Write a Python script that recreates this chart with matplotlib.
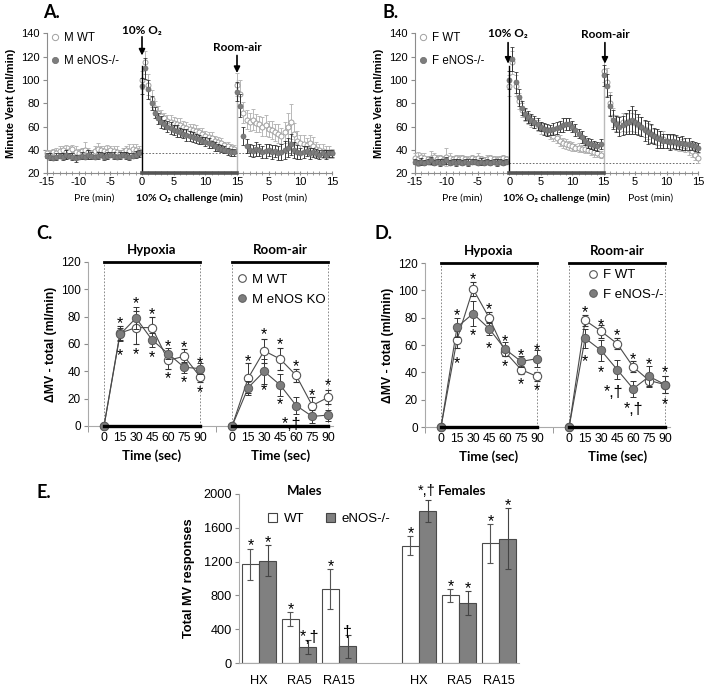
import numpy as np
import matplotlib.pyplot as plt
from matplotlib.lines import Line2D
from matplotlib.patches import Patch
from matplotlib.transforms import offset_copy, blended_transform_factory

plt.rcParams['font.family'] = ['Liberation Sans', 'DejaVu Sans']
BOLD2 = ['Lato', 'DejaVu Sans']

# ---------------- A / B: minute ventilation, one value every 0.5 min ----------------
pre_t = np.arange(-15, 0, 0.5)
hyp_t = np.arange(0, 15, 0.5)
post_t = np.arange(15, 30.5, 0.5)

a_wt_pre = [37, 36, 38, 37, 39, 40, 38, 39, 41, 38, 37, 39, 40, 38, 37, 39, 41, 40, 39, 38, 40, 39, 38, 37, 38, 40, 39, 41, 40, 39]
a_ko_pre = [35, 34, 33, 34, 35, 34, 36, 35, 34, 33, 34, 35, 34, 36, 35, 34, 35, 36, 34, 35, 36, 35, 34, 35, 36, 35, 34, 35, 36, 37]
a_wt_hyp = [100, 115, 96, 84, 76, 72, 69, 67, 65, 64, 63, 62, 61, 60, 59, 58, 57, 56, 55, 54, 52, 51, 50, 48, 47, 46, 44, 43, 42, 41]
a_ko_hyp = [95, 110, 92, 80, 72, 67, 64, 62, 60, 59, 57, 56, 55, 54, 53, 52, 51, 50, 49, 48, 47, 46, 45, 43, 42, 41, 40, 39, 38, 38]
a_wt_post = [96, 88, 72, 66, 64, 66, 63, 62, 60, 61, 58, 57, 55, 54, 52, 55, 60, 64, 54, 48, 46, 45, 44, 46, 43, 41, 40, 39, 38, 38, 37]
a_ko_post = [90, 78, 52, 43, 40, 39, 41, 40, 38, 39, 40, 38, 39, 37, 38, 40, 42, 45, 40, 38, 37, 38, 39, 37, 38, 37, 36, 37, 36, 37, 37]
a_wt_pre_e = [3, 4, 3, 5, 4, 3, 6, 4, 3, 5, 4, 3, 7, 4, 3, 4, 5, 3, 4, 6, 3, 4, 5, 3, 4, 3, 6, 4, 5, 4]
a_ko_pre_e = [2, 3, 2, 3, 2, 3, 4, 2, 3, 3, 2, 3, 2, 4, 3, 2, 3, 2, 3, 3, 2, 3, 2, 3, 2, 3, 3, 2, 3, 3]
a_wt_hyp_e = [8, 10, 9, 7, 6, 6, 5, 5, 5, 6, 5, 5, 6, 5, 5, 4, 5, 5, 4, 5, 4, 4, 5, 4, 4, 4, 3, 4, 3, 3]
a_ko_hyp_e = [7, 9, 8, 6, 5, 5, 5, 4, 5, 5, 4, 5, 4, 4, 5, 4, 4, 4, 4, 3, 4, 4, 3, 4, 3, 3, 3, 3, 3, 3]
a_wt_post_e = [10, 12, 9, 8, 8, 9, 8, 7, 8, 9, 7, 8, 7, 8, 7, 9, 12, 15, 9, 8, 7, 8, 6, 7, 8, 6, 5, 6, 5, 5, 4]
a_ko_post_e = [8, 10, 8, 6, 5, 5, 6, 5, 5, 6, 5, 6, 5, 6, 7, 8, 8, 9, 7, 6, 5, 5, 4, 5, 4, 4, 4, 3, 4, 3, 3]

b_wt_pre = [33, 32, 34, 33, 32, 33, 34, 32, 33, 31, 34, 33, 32, 33, 32, 33, 32, 31, 33, 32, 33, 32, 31, 32, 33, 32, 31, 32, 33, 32]
b_ko_pre = [30, 29, 30, 29, 30, 31, 29, 30, 29, 30, 31, 29, 30, 29, 30, 29, 30, 29, 30, 30, 29, 30, 29, 30, 29, 30, 29, 30, 29, 30]
b_wt_hyp = [95, 115, 95, 82, 74, 70, 67, 65, 63, 61, 59, 58, 56, 54, 52, 50, 48, 46, 45, 44, 43, 42, 42, 41, 41, 40, 39, 38, 37, 36]
b_ko_hyp = [100, 118, 98, 85, 76, 71, 68, 66, 64, 62, 60, 58, 57, 57, 58, 59, 60, 61, 62, 62, 60, 57, 54, 51, 48, 46, 45, 44, 43, 45]
b_wt_post = [108, 98, 80, 68, 63, 62, 64, 63, 65, 64, 63, 61, 60, 58, 56, 54, 52, 51, 50, 49, 48, 47, 47, 46, 45, 44, 43, 41, 39, 36, 33]
b_ko_post = [104, 95, 78, 66, 62, 60, 61, 63, 64, 66, 64, 62, 60, 57, 55, 54, 52, 50, 49, 48, 48, 47, 48, 47, 46, 46, 45, 45, 44, 43, 42]
b_wt_pre_e = [4, 6, 3, 4, 3, 6, 3, 4, 3, 4, 8, 4, 3, 3, 4, 3, 3, 4, 3, 3, 4, 3, 3, 4, 3, 3, 4, 3, 3, 3]
b_ko_pre_e = [2, 2, 3, 2, 2, 3, 2, 2, 3, 2, 3, 2, 2, 3, 2, 2, 2, 3, 2, 2, 2, 3, 2, 2, 2, 2, 3, 2, 2, 2]
b_wt_hyp_e = [9, 10, 9, 7, 6, 5, 5, 5, 4, 5, 5, 4, 4, 5, 4, 4, 5, 4, 4, 4, 4, 3, 4, 3, 4, 3, 3, 4, 3, 3]
b_ko_hyp_e = [8, 10, 9, 7, 6, 5, 5, 5, 5, 5, 4, 5, 5, 4, 5, 5, 5, 6, 5, 5, 5, 5, 4, 5, 4, 4, 4, 4, 4, 4]
b_wt_post_e = [10, 12, 10, 8, 7, 7, 8, 8, 9, 8, 8, 7, 8, 7, 7, 7, 6, 7, 6, 7, 6, 6, 6, 6, 6, 5, 5, 5, 5, 5, 4]
b_ko_post_e = [9, 10, 9, 8, 7, 8, 8, 9, 10, 12, 10, 9, 8, 9, 10, 8, 7, 8, 7, 6, 6, 7, 6, 6, 5, 6, 5, 5, 4, 4, 4]

a_baseline = 37.5
b_baseline = 28.6
tc_ticks = [-15, -10, -5, 0, 5, 10, 15, 20, 25, 30]
tc_labels = ['-15', '-10', '-5', '0', '5', '10', '15', '5', '10', '15']

# ---------------- C / D: delta MV (ml/min) at 0..90 s ----------------
sec = [0, 15, 30, 45, 60, 75, 90]
c_hyp_wt = [0, 68, 72, 72, 48, 51, 36]
c_hyp_wt_e = [0, 5, 12, 8, 6, 5, 4]
c_hyp_ko = [0, 67, 79, 63, 53, 43, 42]
c_hyp_ko_e = [0, 5, 8, 5, 4, 4, 4]
c_ra_wt = [0, 35, 55, 49, 37, 15, 21]
c_ra_wt_e = [0, 11, 9, 8, 5, 6, 5]
c_ra_ko = [0, 28, 40, 30, 15, 7, 8]
c_ra_ko_e = [0, 5, 9, 8, 6, 5, 4]

d_hyp_wt = [0, 64, 101, 80, 55, 42, 37]
d_hyp_wt_e = [0, 6, 5, 4, 3, 3, 3]
d_hyp_ko = [0, 73, 83, 72, 57, 48, 50]
d_hyp_ko_e = [0, 7, 9, 5, 5, 4, 6]
d_ra_wt = [0, 78, 70, 61, 44, 34, 31]
d_ra_wt_e = [0, 4, 5, 4, 4, 4, 6]
d_ra_ko = [0, 65, 56, 42, 28, 37, 31]
d_ra_ko_e = [0, 7, 8, 7, 6, 8, 6]

# significance marks: (x slot, y, text)
c_marks = [(1, 78.6, '*'), (1, 54.8, '*'), (2, 93, '*'), (2, 56, '*'), (3, 84.7, '*'), (3, 53.5, '*'),
           (4, 61.6, '*'), (4, 38.5, '*'), (5, 60.9, '*'), (5, 35.5, '*'), (6, 49.4, '*'), (6, 28.2, '*'),
           (9, 50.6, '*'), (10, 70, '*'), (10, 29, '*'), (11, 62.8, '*'), (11, 19, '*'),
           (12, 47, '*'), (11.7, 4.4, '*,†'), (13, 25.6, '*'), (14, 32.9, '*')]
d_marks = [(1, 85, '*'), (1, 50, '*'), (2, 111, '*'), (2, 70, '*'), (3, 89, '*'), (3, 61, '*'),
           (4, 66, '*'), (4, 48, '*'), (5, 56, '*'), (5, 34.5, '*'), (6, 59, '*'), (6, 30, '*'),
           (9, 87, '*'), (9, 51.5, '*'), (10, 78, '*'), (10, 43, '*'), (11, 70, '*'), (10.8, 29, '*,†'),
           (12, 53, '*'), (12, 16, '*,†'), (13, 49, '*'), (14, 43, '*'), (14, 20, '*')]

# ---------------- E: total MV responses ----------------
e_cats = ['HX', 'RA5', 'RA15', 'HX', 'RA5', 'RA15']
e_wt = [1170, 520, 875, 1390, 800, 1415]
e_wt_err = [185, 80, 240, 115, 80, 235]
e_ko = [1210, 190, 200, 1800, 710, 1470]
e_ko_err = [185, 80, 135, 130, 145, 360]
e_wt_marks = ['*', '*', '*', '*', '*', '*']
e_ko_marks = ['*', '*,†', '†', '', '*', '*']

GRAY = '#7d7d7d'
AX = '#8c8c8c'

fig = plt.figure(figsize=(7.09, 6.88), dpi=100)
W, H = 709, 688


def box(l, t, w, h):
    return [l / W, 1 - (t + h) / H, w / W, h / H]


def time_course(ax, seg, base, lab_wt, lab_ko, arrows):
    for t, wt, wte, ko, koe in seg:
        ax.errorbar(t, wt, yerr=wte, fmt='o', ms=3.6, mfc='white', mec='#a0a0a0', mew=0.7,
                    ecolor='#b8b8b8', elinewidth=0.7, capsize=1.6, capthick=0.7, clip_on=False, zorder=3)
        ax.errorbar(t, ko, yerr=koe, fmt='o', ms=3.6, mfc=GRAY, mec='#6a6a6a', mew=0.5,
                    ecolor='#1a1a1a', elinewidth=0.6, capsize=1.6, capthick=0.6, clip_on=False, zorder=4)
    ax.plot([0, 0], [20, 112], color='k', lw=1.0, zorder=5)
    ax.plot([15, 15], [20, 100], color='#bbbbbb', lw=1.0, zorder=2)
    ax.plot([0, 30], [base, base], color='#555555', lw=0.6, ls=(0, (2, 2)), zorder=2)
    ax.plot([0, 15], [20, 20], color='#555555', lw=2.6, clip_on=False, zorder=6)
    ax.set_xlim(-15, 30)
    ax.set_ylim(20, 140)
    ax.set_xticks(tc_ticks)
    ax.set_xticklabels(tc_labels)
    ax.set_xticks(np.arange(-15, 31, 1), minor=True)
    ax.set_yticks(range(20, 141, 20))
    ax.tick_params(axis='x', which='both', direction='inout', length=3, color=AX, labelsize=8, pad=1)
    ax.tick_params(axis='y', direction='out', length=3, color=AX, labelsize=8, pad=2)
    for s in ['top', 'right']:
        ax.spines[s].set_visible(False)
    for s in ['left', 'bottom']:
        ax.spines[s].set_color(AX)
    ax.set_ylabel('Minute Vent (ml/min)', fontsize=8, fontweight='bold', labelpad=4)
    handles = [Line2D([], [], marker='o', ls='', ms=4.5, mfc='white', mec='#a0a0a0', mew=0.7),
               Line2D([], [], marker='o', ls='', ms=4.5, mfc=GRAY, mec='#6a6a6a', mew=0.5)]
    ax.legend(handles, [lab_wt, lab_ko], loc='upper left', bbox_to_anchor=(-0.005, 1.045), frameon=False,
              fontsize=8.3, handlelength=0.8, handletextpad=0.4, labelspacing=1.0, borderaxespad=0)
    for x, ty, y0, y1, txt in arrows:
        ax.annotate('', xy=(x, y1), xytext=(x, y0),
                    arrowprops=dict(arrowstyle='-|>', color='k', lw=1.2, mutation_scale=9, shrinkA=0, shrinkB=0))
        ax.text(x, ty, txt, ha='center', va='center', fontsize=8.5, fontweight='bold', family=BOLD2)
    tr = blended_transform_factory(ax.transData, fig.transFigure)
    ax.text(-7.5, 1 - 198 / H, 'Pre (min)', transform=tr, ha='center', va='center', fontsize=7.5, family=BOLD2)
    ax.text(7.5, 1 - 198 / H, '10% O₂ challenge (min)', transform=tr, ha='center', va='center',
            fontsize=7.5, fontweight='bold', family=BOLD2)
    ax.text(22.5, 1 - 198 / H, 'Post (min)', transform=tr, ha='center', va='center', fontsize=7.5, family=BOLD2)


axA = fig.add_axes(box(47, 33.3, 285, 140))
time_course(axA, [(pre_t, a_wt_pre, a_wt_pre_e, a_ko_pre, a_ko_pre_e),
                  (hyp_t, a_wt_hyp, a_wt_hyp_e, a_ko_hyp, a_ko_hyp_e),
                  (post_t, a_wt_post, a_wt_post_e, a_ko_post, a_ko_post_e)],
            a_baseline, 'M WT', 'M eNOS-/-',
            [(0, 142.5, 137, 121, '10% O₂'), (15, 127.5, 121, 106, 'Room-air')])

axB = fig.add_axes(box(415, 33.3, 283, 140))
time_course(axB, [(pre_t, b_wt_pre, b_wt_pre_e, b_ko_pre, b_ko_pre_e),
                  (hyp_t, b_wt_hyp, b_wt_hyp_e, b_ko_hyp, b_ko_hyp_e),
                  (post_t, b_wt_post, b_wt_post_e, b_ko_post, b_ko_post_e)],
            b_baseline, 'F WT', 'F eNOS-/-',
            [(-0.2, 140, 132, 114, '10% O₂'), (15.2, 139, 132, 114, 'Room-air')])


def star(ax, x, y, s, size=11.5):
    tr = offset_copy(ax.transData, fig=fig, y=-0.58 * size, units='points')
    ax.text(x, y, s, transform=tr, ha='center', va='baseline', fontsize=size, clip_on=False)


def delta_panel(ax, groups, marks, lab_wt, lab_ko, leg_anchor):
    for off, wt, wte, ko, koe in groups:
        x = np.arange(len(sec)) + off
        ax.plot(x, wt, '-', color='#4a4a4a', lw=0.8, zorder=3)
        ax.plot(x, ko, '-', color='#4a4a4a', lw=0.8, zorder=3)
        ax.errorbar(x, wt, yerr=wte, fmt='o', ms=6, mfc='white', mec='#555555', mew=0.8,
                    ecolor='#333333', elinewidth=0.7, capsize=2, capthick=0.7, zorder=4, clip_on=False)
        ax.errorbar(x, ko, yerr=koe, fmt='o', ms=6, mfc=GRAY, mec='#5a5a5a', mew=0.7,
                    ecolor='#333333', elinewidth=0.7, capsize=2, capthick=0.7, zorder=5, clip_on=False)
        ax.plot([off, off + 6], [120, 120], color='k', lw=2.0, clip_on=False, zorder=6)
        ax.plot([off, off + 6], [0, 0], color='k', lw=2.4, clip_on=False, zorder=6)
        ax.vlines([off, off + 6], 0, 120, colors='#777777', linestyles=(0, (2, 2)), lw=0.6, zorder=2)
        ax.text(off + 3, 128.6, ['Hypoxia', 'Room-air'][off > 0], ha='center', va='center',
                fontsize=9.5, fontweight='bold', family=BOLD2)
        ax.text(off + 3, -0.18, 'Time (sec)', transform=blended_transform_factory(ax.transData, ax.transAxes),
                ha='center', va='center', fontsize=9.5, fontweight='bold', family=BOLD2)
    for x, y, s in marks:
        star(ax, x, y, s)
    ax.set_xlim(-1, 14.3)
    ax.set_ylim(0, 120)
    ax.set_xticks(list(range(7)) + list(range(8, 15)))
    ax.set_xticklabels([str(s) for s in sec] * 2)
    ax.set_xticks([-1, 7], minor=True)
    ax.tick_params(axis='x', which='major', length=0, labelsize=8.8, pad=4)
    ax.tick_params(axis='x', which='minor', length=4, color=AX)
    ax.set_yticks(range(0, 121, 20))
    ax.tick_params(axis='y', direction='out', length=3, color=AX, labelsize=8.5, pad=2)
    for s in ['top', 'right']:
        ax.spines[s].set_visible(False)
    for s in ['left', 'bottom']:
        ax.spines[s].set_color('#aaaaaa')
    ax.set_ylabel('ΔMV - total (ml/min)', fontsize=8.8, fontweight='bold', labelpad=3)
    handles = [Line2D([], [], marker='o', ls='', ms=5.5, mfc='white', mec='#555555', mew=0.8),
               Line2D([], [], marker='o', ls='', ms=5.5, mfc=GRAY, mec='#5a5a5a', mew=0.7)]
    ax.legend(handles, [lab_wt, lab_ko], loc='upper left', bbox_to_anchor=leg_anchor, frameon=False,
              fontsize=9.5, handlelength=0.7, handletextpad=0.4, labelspacing=0.55, borderaxespad=0)


axC = fig.add_axes(box(88, 262, 245, 164))
delta_panel(axC, [(0, c_hyp_wt, c_hyp_wt_e, c_hyp_ko, c_hyp_ko_e), (8, c_ra_wt, c_ra_wt_e, c_ra_ko, c_ra_ko_e)],
            c_marks, 'M WT', 'M eNOS KO', (0.59, 0.96))

axD = fig.add_axes(box(425, 263, 245, 164))
delta_panel(axD, [(0, d_hyp_wt, d_hyp_wt_e, d_hyp_ko, d_hyp_ko_e), (8, d_ra_wt, d_ra_wt_e, d_ra_ko, d_ra_ko_e)],
            d_marks, 'F WT', 'F eNOS-/-', (0.645, 0.995))

# ---------------- E ----------------
axE = fig.add_axes(box(239, 494, 280, 169))
pos = np.array([0, 1, 2, 4, 5, 6])
bw = 0.43
axE.bar(pos - bw / 2, e_wt, bw, color='white', edgecolor='#4a4a4a', lw=0.8, zorder=2)
axE.bar(pos + bw / 2, e_ko, bw, color='#808080', edgecolor='#4a4a4a', lw=0.8, zorder=2)
axE.errorbar(pos - bw / 2, e_wt, yerr=e_wt_err, fmt='none', ecolor='#555555', elinewidth=0.8,
             capsize=2.2, capthick=0.8, zorder=3)
axE.errorbar(pos + bw / 2, e_ko, yerr=e_ko_err, fmt='none', ecolor='#444444', elinewidth=0.8,
             capsize=2.2, capthick=0.8, zorder=3)
for p, v, e, m in zip(pos, e_wt, e_wt_err, e_wt_marks):
    if m:
        star(axE, p - bw / 2, v + e + 85, m)
for p, v, e, m in zip(pos, e_ko, e_ko_err, e_ko_marks):
    if m:
        star(axE, p + bw / 2 + (0.05 if ',' in m else 0), v + e + 85, m)
axE.text(1.15, 2030, 'Males', ha='center', va='center', fontsize=9.5, fontweight='bold', family=BOLD2)
axE.text(4.2, 2030, '*,†', ha='center', va='center', fontsize=10.5)
axE.text(4.47, 2030, 'Females', ha='left', va='center', fontsize=9.5, fontweight='bold', family=BOLD2)
axE.set_xlim(-0.5, 6.5)
axE.set_ylim(0, 2000)
axE.set_xticks(pos)
axE.set_xticklabels(e_cats)
axE.tick_params(axis='x', length=0, labelsize=9.2, pad=9)
axE.set_yticks(range(0, 2001, 400))
axE.tick_params(axis='y', direction='out', length=3, color=AX, labelsize=9.2, pad=2)
for s in ['top', 'right']:
    axE.spines[s].set_visible(False)
for s in ['left', 'bottom']:
    axE.spines[s].set_color('#aaaaaa')
axE.set_ylabel('Total MV responses', fontsize=9.2, fontweight='bold', labelpad=6)
axE.legend([Patch(facecolor='white', edgecolor='#444444', lw=0.8), Patch(facecolor='#808080', edgecolor='#444444', lw=0.8)],
           ['WT', 'eNOS-/-'], ncol=2, loc='upper left', bbox_to_anchor=(0.085, 0.92), frameon=False,
           fontsize=9.5, handlelength=0.7, handleheight=0.7, handletextpad=0.5, columnspacing=1.6, borderaxespad=0)

# panel letters
for x, y, s in [(43, 12, 'A.'), (382, 12, 'B.'), (36, 233, 'C.'), (375, 233, 'D.'), (36, 493, 'E.')]:
    fig.text(x / W, 1 - y / H, s, ha='left', va='center', fontsize=13, fontweight='bold', family=BOLD2)

fig.savefig('out.png', dpi=100)
